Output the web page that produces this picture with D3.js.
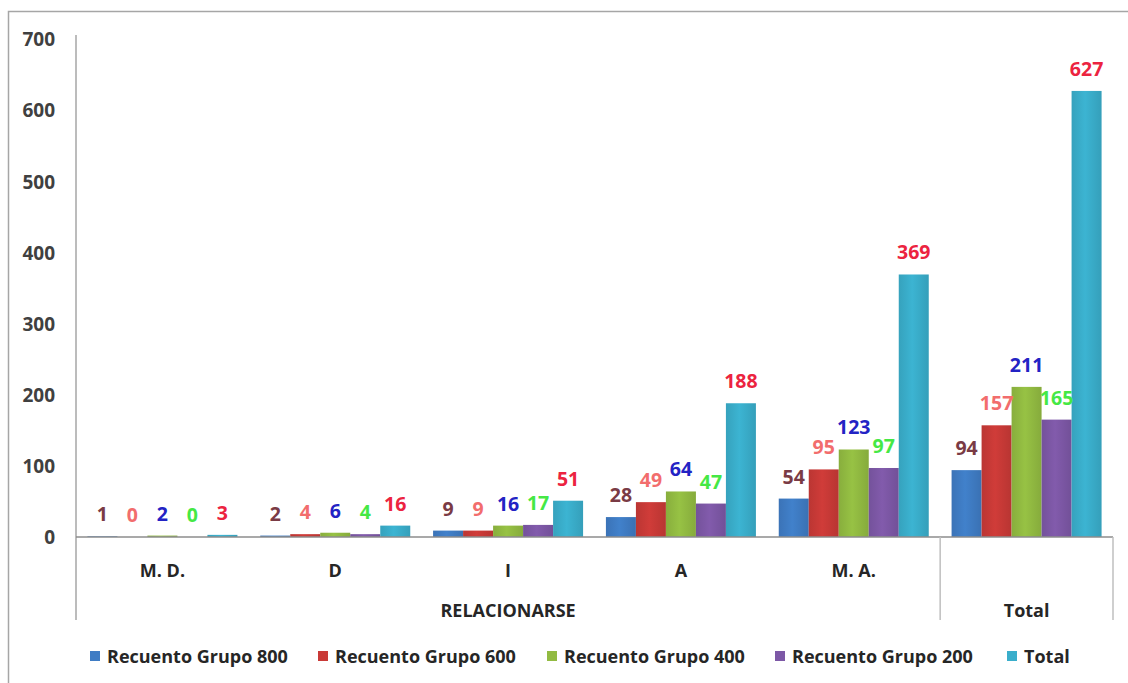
<!DOCTYPE html>
<html>
<head>
<meta charset="utf-8">
<title>Relacionarse</title>
<script src="https://d3js.org/d3.v7.min.js"></script>
<style>
  body { margin: 0; background: #fff; }
  text { font-family: "Open Sans", Lato, sans-serif; font-weight: bold; }
  .tick text { fill: #404040; font-size: 19px; }
  .cat { fill: #262626; font-size: 18px; }
  .val { font-size: 19.5px; }
  .leg { fill: #262626; font-size: 18px; }
</style>
</head>
<body>
<div id="chart"></div>
<script>
// datos
var categories = ["M. D.", "D", "I", "A", "M. A.", "Total"];
var groups = [
  {name: "RELACIONARSE", cats: ["M. D.", "D", "I", "A", "M. A."]},
  {name: "Total", cats: ["Total"]}
];
var seriesNames = ["Recuento Grupo 800", "Recuento Grupo 600", "Recuento Grupo 400", "Recuento Grupo 200", "Total"];
var grupo800 = [1, 2, 9, 28, 54, 94];
var grupo600 = [0, 4, 9, 49, 95, 157];
var grupo400 = [2, 6, 16, 64, 123, 211];
var grupo200 = [0, 4, 17, 47, 97, 165];
var total    = [3, 16, 51, 188, 369, 627];
var yTicks = [0, 100, 200, 300, 400, 500, 600, 700];

var values = [grupo800, grupo600, grupo400, grupo200, total];
var barColors = ["#3f7cc4", "#c93a37", "#92bb42", "#7d58a6", "#3aaecb"];
var labelColors = ["#7a3b45", "#f26d6d", "#2323c4", "#45e845", "#ec2340"];

var W = 1128, H = 683;
var x0 = 76, x1 = 1113, yBase = 537, yTop = 39;

var svg = d3.select("#chart").append("svg")
    .attr("width", W).attr("height", H);

// borde exterior
svg.append("rect")
    .attr("x", 8.5).attr("y", 11.5)
    .attr("width", W + 20).attr("height", H + 20)
    .attr("fill", "none").attr("stroke", "#a6a6a6").attr("stroke-width", 1.5);

// gradientes de las barras
var defs = svg.append("defs");
barColors.forEach(function(c, i) {
    var g = defs.append("linearGradient").attr("id", "grad" + i)
        .attr("x1", "0%").attr("x2", "100%").attr("y1", "0%").attr("y2", "0%");
    g.append("stop").attr("offset", "0%").attr("stop-color", d3.color(c).darker(0.2));
    g.append("stop").attr("offset", "45%").attr("stop-color", d3.color(c).brighter(0.1));
    g.append("stop").attr("offset", "100%").attr("stop-color", d3.color(c).darker(0.25));
});

var xScale = d3.scaleBand().domain(categories).range([x0, x1]);
var bw = 30;
var xInner = d3.scaleBand().domain(d3.range(5))
    .range([0, bw * 5]);
var yScale = d3.scaleLinear().domain([0, 700]).range([yBase, yTop]);

// eje y
var yAxis = d3.axisLeft(yScale).tickValues(yTicks).tickSize(0).tickPadding(21);
var gy = svg.append("g").attr("transform", "translate(" + x0 + ",0)").call(yAxis);
gy.select(".domain").remove();
gy.selectAll(".tick text").attr("dy", "0.36em");

svg.append("line")
    .attr("x1", x0).attr("x2", x0).attr("y1", yTop - 4).attr("y2", 620)
    .attr("stroke", "#a6a6a6").attr("stroke-width", 1.5);

// barras
var offset = (xScale.bandwidth() - bw * 5) / 2;
values.forEach(function(vals, s) {
    var g = svg.append("g");
    g.selectAll("rect").data(vals).enter().append("rect")
        .attr("x", function(d, i) { return xScale(categories[i]) + offset + xInner(s); })
        .attr("width", xInner.bandwidth())
        .attr("y", function(d) { return yScale(d); })
        .attr("height", function(d) { return yBase - yScale(d); })
        .attr("fill", "url(#grad" + s + ")");
});

// linea base
svg.append("line")
    .attr("x1", x0).attr("x2", x1).attr("y1", yBase).attr("y2", yBase)
    .attr("stroke", "#8c8c8c").attr("stroke-width", 1.5);

// separadores de grupos
var sep = [xScale("Total"), x1];
svg.selectAll(".sep").data(sep).enter().append("line")
    .attr("x1", function(d) { return d; }).attr("x2", function(d) { return d; })
    .attr("y1", yBase).attr("y2", 620)
    .attr("stroke", "#bfbfbf").attr("stroke-width", 1.5);

// etiquetas de valores
values.forEach(function(vals, s) {
    svg.append("g").selectAll("text").data(vals).enter().append("text")
        .attr("class", "val")
        .attr("x", function(d, i) { return xScale(categories[i]) + offset + xInner(s) + xInner.bandwidth() / 2; })
        .attr("y", function(d) { return yScale(d) - 15; })
        .attr("text-anchor", "middle")
        .attr("fill", labelColors[s])
        .text(function(d) { return d; });
});

// etiquetas de categorias
svg.selectAll(".cat1").data(categories.slice(0, 5)).enter().append("text")
    .attr("class", "cat")
    .attr("x", function(d) { return xScale(d) + xScale.bandwidth() / 2; })
    .attr("y", 577)
    .attr("text-anchor", "middle")
    .text(function(d) { return d; });

svg.selectAll(".cat2").data(groups).enter().append("text")
    .attr("class", "cat")
    .attr("x", function(d) {
        var a = xScale(d.cats[0]), b = xScale(d.cats[d.cats.length - 1]) + xScale.bandwidth();
        return (a + b) / 2;
    })
    .attr("y", 617)
    .attr("text-anchor", "middle")
    .text(function(d) { return d.name; });

// leyenda
var legX = [90, 318, 547, 775, 1007];
var leg = svg.selectAll(".legitem").data(seriesNames).enter().append("g")
    .attr("transform", function(d, i) { return "translate(" + legX[i] + ",657)"; });
leg.append("rect").attr("x", 0).attr("y", -6).attr("width", 10).attr("height", 10)
    .attr("fill", function(d, i) { return barColors[i]; });
leg.append("text").attr("class", "leg").attr("x", 17).attr("y", 0).attr("dy", "0.35em")
    .text(function(d) { return d; });
</script>
</body>
</html>
